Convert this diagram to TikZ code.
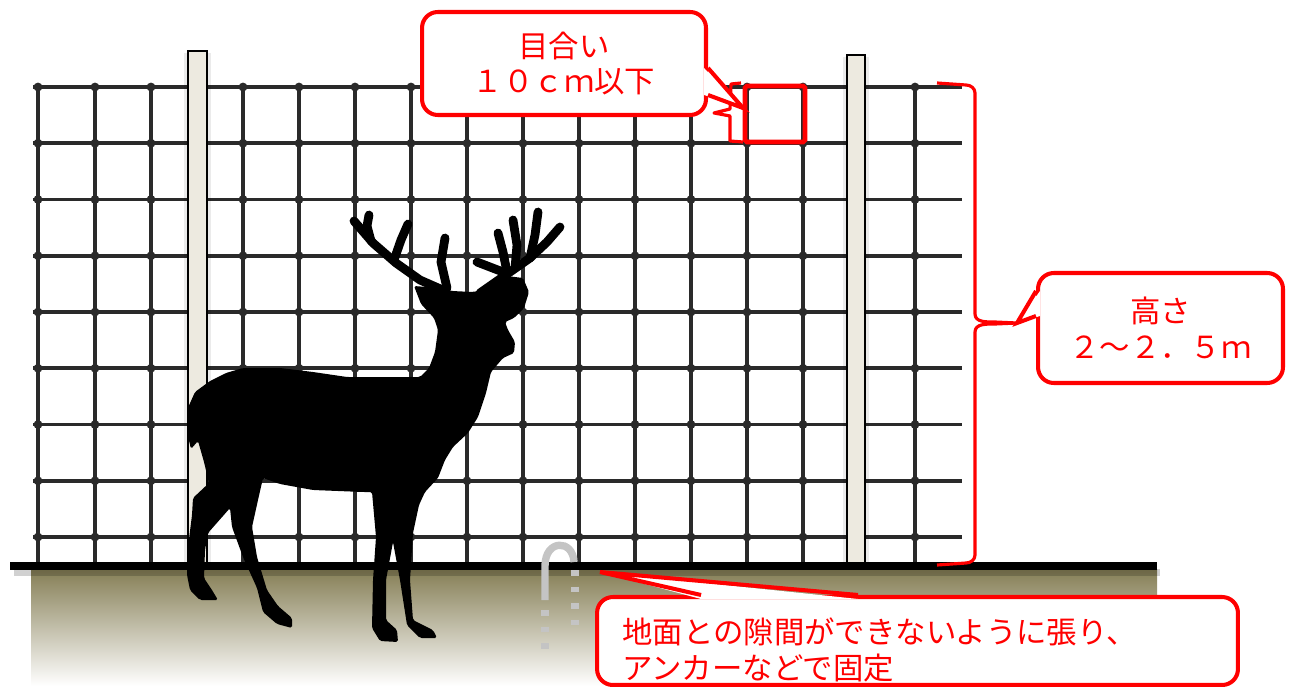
\documentclass[tikz,border=0pt]{standalone}
\usepackage{fontspec}
\usepackage{xcolor}
\usepackage{tikz}
\usetikzlibrary{positioning, calc}

\newfontfamily\jpfont{Noto Sans CJK JP}

\definecolor{wirecol}{HTML}{2A2A2A}
\definecolor{postcol}{HTML}{EDEAE0}
\definecolor{soilcol}{HTML}{857E55}
\definecolor{notered}{HTML}{FF0000}
\definecolor{hookcol}{HTML}{C4C4C4}

\begin{document}
\begin{tikzpicture}[
  x=0.02cm, y=-0.02cm,
  font=\jpfont\fontsize{17.3pt}{20.4pt}\selectfont,
  wire/.style={draw=wirecol, line width=2pt},
  knot/.style={fill=wirecol},
  pole/.style={draw=black, line width=0.7pt, fill=postcol},
  note/.style={draw=notered, line width=2.3pt, fill=white, rounded corners=9pt,
               text=notered, align=center, inner sep=0pt},
  hint/.style={draw=notered, line width=1.8pt, line join=round},
  tail/.style={draw=notered, line width=2.3pt, line join=miter},
  antler/.style={line width=5pt, line cap=round, line join=round},
  hook/.style={draw=hookcol, line width=4.2pt}
]
\useasboundingbox (0,0) rectangle (1293,686);

% wire net
\foreach \r in {0,...,8}
  \draw[wire] (33,{87+56.25*\r}) -- (962,{87+56.25*\r});
\foreach \x in {38,95,151,243,299,355,411,467,523,579,635,691,747,803,859,915} {
  \draw[wire] (\x,87) -- (\x,563);
  \foreach \r in {0,...,8}
    \fill[knot] (\x,{87+56.25*\r}) circle[radius=2.5pt];
}

% posts, with a soft shadow
\foreach \p/\q/\t in {188/207/51, 847/865/55} {
  \fill[black, opacity=0.08] (\p-4,\t+2) rectangle (\q+4,564);
  \draw[pole] (\p,\t) rectangle (\q,564);
}

% ground
\shade[top color=soilcol, bottom color=white] (31,569) rectangle (1157,686);
\fill[black, opacity=0.18] (14,569) rectangle (1160,576);
\fill[black] (10,562) rectangle (1157,570);

% deer
\fill[rounded corners=1pt]
  (187,410) -- (195,392) -- (210,381) -- (226,373) -- (243,368) -- (280,368)
  -- (313,372) -- (347,377) -- (387,377) -- (420,377)
  -- (429,368) -- (435,352) -- (438,330) -- (434,318) -- (421,304) -- (414,286)
  -- (440,288) -- (452,291) -- (473,292)
  -- (482,290) -- (494,281) -- (507,276) -- (523,278) -- (529,292) -- (524,308)
  -- (514,318) -- (505,322)
  -- (508,330) -- (515,342) -- (514,353) -- (503,358) -- (497,365)
  -- (491,372) -- (486,393) -- (478,417) -- (468,433) -- (453,447) -- (445,460)
  -- (438,478) -- (425,492)
  -- (419,505) -- (413,533) -- (410,580) -- (413,620) -- (433,630) -- (437,638)
  -- (420,638) -- (407,625) -- (400,580) -- (393,542)
  -- (386,580) -- (386,620) -- (397,630) -- (398,642) -- (380,641) -- (372,628)
  -- (373,580) -- (376,537) -- (372,492)
  -- (363,492) -- (313,490) -- (280,484) -- (263,478)
  -- (258,500) -- (252,527) -- (257,557) -- (267,590) -- (278,606) -- (292,618)
  -- (292,628) -- (277,624) -- (263,612) -- (257,588) -- (243,557) -- (232,527)
  -- (230,508)
  -- (208,533) -- (205,550) -- (204,578) -- (212,590) -- (218,600) -- (200,600)
  -- (190,590) -- (187,575) -- (188,547) -- (192,515) -- (193,498)
  -- (209,483) -- (204,462) -- (198,441) -- (191,449) -- (187,432) -- cycle;
% antlers
\draw[antler] (445,291) -- (420,280) -- (396,263) -- (373,243) -- (354,221);
\draw[antler] (371,241) -- (367,226) -- (369,215);
\draw[antler] (394,260) -- (401,240) -- (408,224);
\draw[antler] (447,288) -- (441,262) -- (445,238);
\draw[antler] (480,293) -- (510,272) -- (530,258) -- (547,242) -- (560,227);
\draw[antler] (530,258) -- (535,235) -- (538,212);
\draw[antler] (515,268) -- (517,245) -- (513,220);
\draw[antler] (507,272) -- (503,252) -- (498,233);
\draw[antler] (503,272) -- (477,262);

% anchor pin
\draw[hook] (545,600) -- (545,566) .. controls (545,539) and (573,539) .. (574,562);
\draw[hook, dash pattern=on 3.4pt off 6pt] (545,610) -- (545,652);
\draw[hook, dash pattern=on 3.4pt off 6pt] (575,570) -- (575,625);

% mesh size
\node[draw=notered, line width=2.6pt, rounded corners=1pt, inner sep=0pt,
      minimum width=1.2cm, minimum height=1.12cm] (cell) at (775,114) {};
\draw[hint] (741,83) -- (731,84) -- (730,109) -- (714,113) -- (730,116)
  -- (730,141) -- (743,142);
\node[note, minimum width=5.68cm, minimum height=2.06cm] (mesh) at (564,63.5)
  {目合い\\１０ｃｍ以下};
\coordinate (meshtip) at (743,108);
\fill[white] ($(mesh.north east)+(-4,58)$) -- (meshtip)
  -- ($(mesh.north east)+(-4,85)$) -- cycle;
\draw[tail] ($(mesh.north east)+(0,58)$) -- (meshtip)
  -- ($(mesh.north east)+(0,85)$);

% height
\coordinate (hightip) at (1017,323);
\draw[hint] (937,83) -- (966,85) to[out=0,in=90] (975,93) -- (975,314)
  to[out=-90,in=180] (995,322) -- (hightip) -- (995,324)
  to[out=180,in=90] (975,332) -- (975,555) to[out=-90,in=0] (966,563) -- (937,565);
\node[note, minimum width=4.9cm, minimum height=2.2cm] (high) at (1160.5,328)
  {高さ\\２～２．５ｍ};
\fill[white] ($(high.north west)+(4,20)$) -- (hightip)
  -- ($(high.north west)+(4,45)$) -- cycle;
\draw[tail] ($(high.north west)+(0,20)$) -- (hightip)
  -- ($(high.north west)+(0,45)$);

% ground gap
\node[note, minimum width=12.82cm, minimum height=1.76cm] (gapnote) at (917.5,641) {};
\node[text=notered, align=left, anchor=west, inner sep=0pt] (gaptext) at (622,650)
  {地面との隙間ができないように張り、\\アンカーなどで固定};
\coordinate (gaptip) at (600,572);
\fill[white] ($(gapnote.north west)+(106,4)$) -- (gaptip)
  -- ($(gapnote.north west)+(263,4)$) -- cycle;
\draw[tail] ($(gapnote.north west)+(106,0)$) -- (gaptip)
  -- ($(gapnote.north west)+(263,0)$);
\end{tikzpicture}
\end{document}
